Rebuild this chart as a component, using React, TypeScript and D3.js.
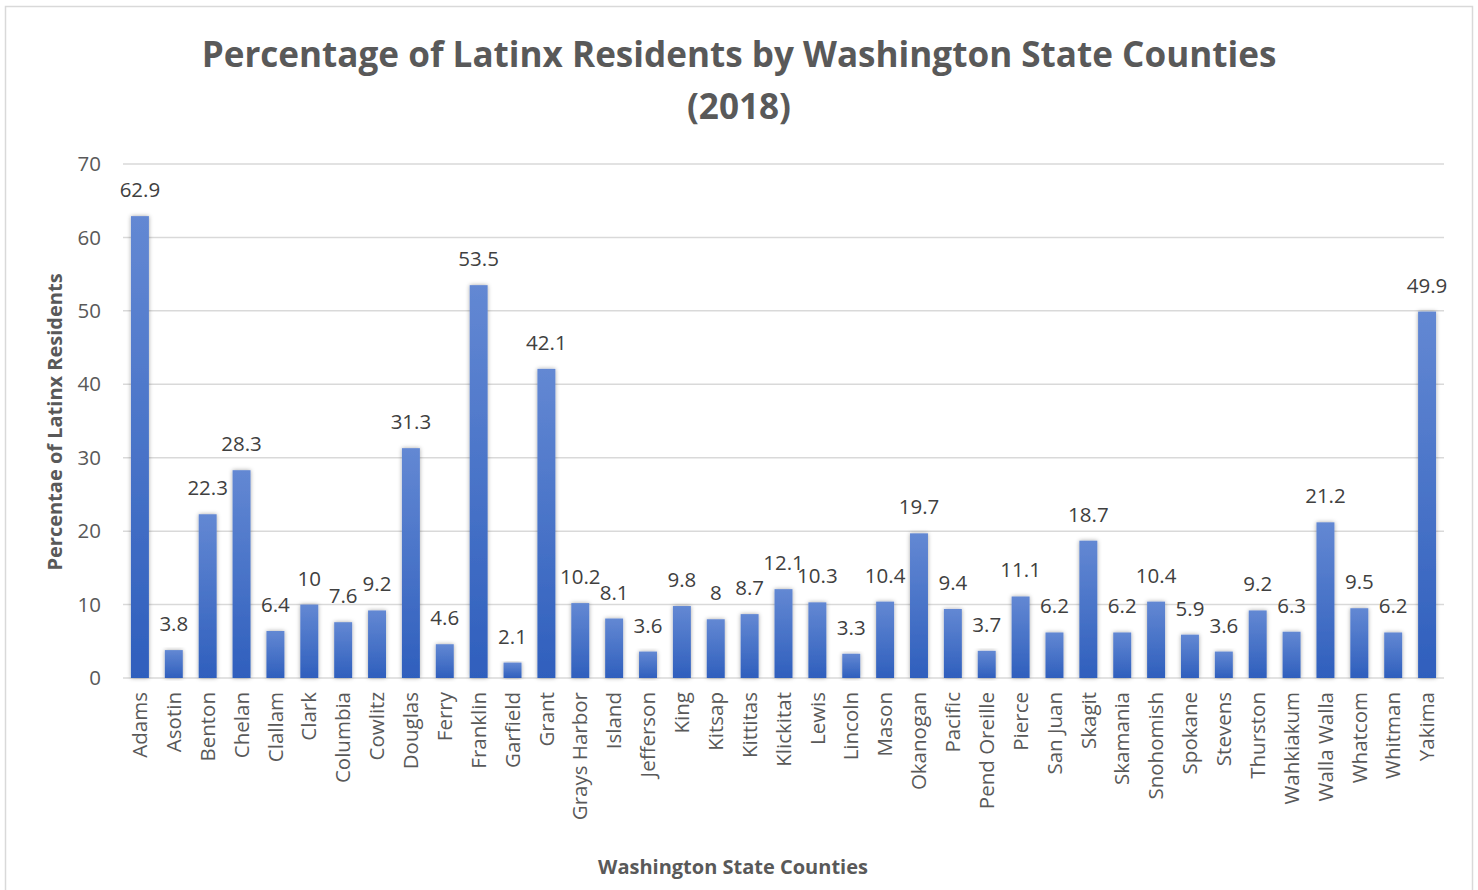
import React from "react";
import * as d3 from "d3";

const counties = ["Adams","Asotin","Benton","Chelan","Clallam","Clark","Columbia","Cowlitz","Douglas","Ferry","Franklin","Garfield","Grant","Grays Harbor","Island","Jefferson","King","Kitsap","Kittitas","Klickitat","Lewis","Lincoln","Mason","Okanogan","Pacific","Pend Oreille","Pierce","San Juan","Skagit","Skamania","Snohomish","Spokane","Stevens","Thurston","Wahkiakum","Walla Walla","Whatcom","Whitman","Yakima"];
const percentages = [62.9,3.8,22.3,28.3,6.4,10,7.6,9.2,31.3,4.6,53.5,2.1,42.1,10.2,8.1,3.6,9.8,8,8.7,12.1,10.3,3.3,10.4,19.7,9.4,3.7,11.1,6.2,18.7,6.2,10.4,5.9,3.6,9.2,6.3,21.2,9.5,6.2,49.9];
const yTicks = [0,10,20,30,40,50,60,70];
const titleLines = ["Percentage of Latinx Residents by Washington State Counties", "(2018)"];
const yTitle = "Percentae of Latinx Residents";
const xTitle = "Washington State Counties";

const W = 1478, H = 890;
const m = { left: 123, right: 1444, top: 164, bottom: 678 };
const FONT = "'Open Sans', sans-serif";

export default function App() {
  const x = d3.scaleBand<string>().domain(counties).range([m.left, m.right]).paddingInner(0.47).paddingOuter(0.235);
  const y = d3.scaleLinear().domain([0, 70]).range([m.bottom, m.top]);
  return (
    <div style={{ position: "absolute", left: 0, top: 0 }}>
      <svg width={W} height={H} style={{ display: "block", background: "#fff" }}>
        <defs>
          <linearGradient id="barGrad" x1="0" y1="0" x2="0" y2="1">
            <stop offset="0" stopColor="#6388d3" />
            <stop offset="1" stopColor="#2f5fbd" />
          </linearGradient>
          <filter id="shadow" x="-50%" y="-10%" width="200%" height="120%">
            <feDropShadow dx="0" dy="0" stdDeviation="2" floodColor="#000" floodOpacity="0.35" />
          </filter>
        </defs>
        <rect x={5.5} y={6.5} width={1467} height={900} fill="#fff" stroke="#d9d9d9" strokeWidth={1.5} />
        {yTicks.map(t => (
          <g key={t}>
            <line x1={m.left} x2={m.right} y1={y(t)} y2={y(t)} stroke="#d9d9d9" strokeWidth={1.5} />
            <text x={101} y={y(t)} dy="0.35em" textAnchor="end" fontFamily={FONT} fontSize={20.5} fill="#595959">{t}</text>
          </g>
        ))}
        {counties.map((c, i) => {
          const v = percentages[i];
          const bx = x(c)!;
          const bw = x.bandwidth();
          return (
            <g key={c}>
              <rect x={bx} y={y(v)} width={bw} height={y(0) - y(v)} fill="url(#barGrad)" filter="url(#shadow)" />
              <text x={bx + bw / 2} y={y(v) - 19} textAnchor="middle" fontFamily={FONT} fontSize={20.5} fill="#404040">{v}</text>
              <text transform={`translate(${bx + bw / 2},${m.bottom + 14}) rotate(-90)`} dy="0.35em" textAnchor="end" fontFamily={FONT} fontSize={20.5} fill="#595959">{c}</text>
            </g>
          );
        })}
        {titleLines.map((t, i) => (
          <text key={i} x={739} y={67 + i * 52} textAnchor="middle" fontFamily={FONT} fontWeight="bold" fontSize={35.1} fill="#595959">{t}</text>
        ))}
        <text transform={`translate(55,422) rotate(-90)`} dy="0.35em" textAnchor="middle" fontFamily={FONT} fontWeight="bold" fontSize={20} fill="#595959">{yTitle}</text>
        <text x={733} y={867} dy="0.35em" textAnchor="middle" fontFamily={FONT} fontWeight="bold" fontSize={20} fill="#595959">{xTitle}</text>
      </svg>
    </div>
  );
}
